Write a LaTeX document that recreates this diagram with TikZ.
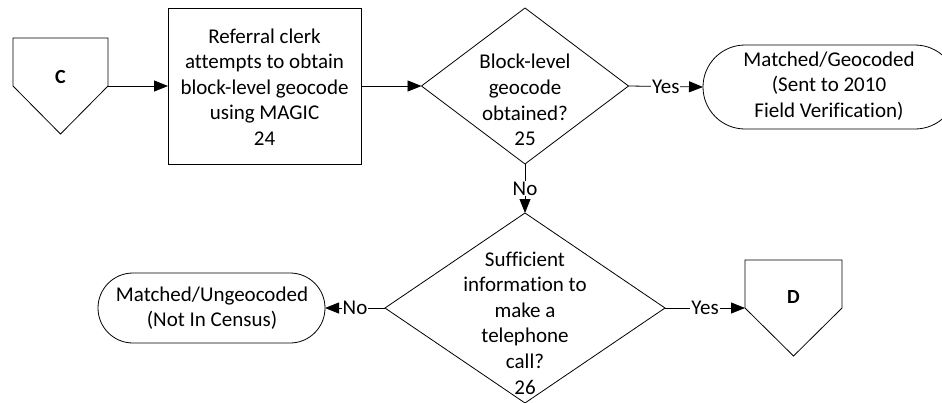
\documentclass[tikz,border=0pt]{standalone}
\usepackage{fontspec}
\setmainfont{Carlito}[Ligatures=NoCommon]
\usetikzlibrary{arrows.meta,shapes.geometric,shapes.misc}
\begin{document}
\begin{tikzpicture}[x=1pt,y=-1pt,
  font=\fontsize{21}{25.6}\selectfont,
  outline/.style={draw=black, line width=0.8pt, fill=white},
  process/.style={outline, rectangle, inner sep=0pt, outer sep=0pt},
  decision/.style={outline, diamond, inner sep=0pt, outer sep=0pt},
  terminal/.style={outline, rounded rectangle, inner sep=0pt, outer sep=0pt},
  offpage/.style={rectangle, inner sep=0pt, outer sep=0pt, minimum height=96pt},
  offlabel/.style={font=\fontsize{20}{24}\selectfont\bfseries, inner sep=0pt},
  flow/.style={line width=0.8pt, -{Triangle[length=14pt,width=11pt]}},
  branch/.style={fill=white, inner sep=1pt},
  caption/.style={align=center, inner sep=0pt},
]
\useasboundingbox (0,0) rectangle (942,402);
\clip (0,0) rectangle (942,402);

% off-page connector C
\node[offpage, minimum width=95pt] (C) at (60.5,86) {};
\draw[outline] (C.north west) -- (C.north east) -- (C.east) -- (C.south) -- (C.west) -- cycle;
\node[offlabel] (Ctext) at (60.5,77) {C};

% step 24
\node[process, minimum width=193pt, minimum height=156pt] (p24) at (264.5,86) {};
\node[caption] (p24text) at (264.5,87) {Referral clerk\\attempts to obtain\\block-level geocode\\using MAGIC\\24};

% decision 25
\node[decision, minimum width=207pt, minimum height=156pt] (d25) at (525,86) {};
\node[caption] (d25text) at (525,100) {Block-level\\geocode\\obtained?\\25};

% terminal: geocoded
\node[terminal, minimum width=254pt, minimum height=84pt] (t2) at (830,87) {};
\node[caption] (t2text) at (829,86) {Matched/Geocoded\\(Sent to 2010\\Field Verification)};

% decision 26
\node[decision, minimum width=280pt, minimum height=190pt] (d26) at (525,308) {};
\node[caption] (d26text) at (525,323) {Sufficient\\information to\\make a\\telephone\\call?\\26};

% terminal: ungeocoded
\node[terminal, minimum width=227pt, minimum height=70pt] (t1) at (211.5,308) {};
\node[caption] (t1text) at (212,308) {Matched/Ungeocoded\\(Not In Census)};

% off-page connector D
\node[offpage, minimum width=97pt] (D) at (793.5,308) {};
\draw[outline] (D.north west) -- (D.north east) -- (D.east) -- (D.south) -- (D.west) -- cycle;
\node[offlabel] (Dtext) at (793.5,297) {D};

% connectors
\draw[flow] (C.east) -- (p24.west);
\draw[flow] (p24.east) -- (d25.west);
\draw[flow] (d25.east) -- node[branch] {Yes} (t2.west);
\draw[flow] (d25.south) -- node[branch] {No} (d26.north);
\draw[flow] (d26.west) -- node[branch] {No} (t1.east);
\draw[flow] (d26.east) -- node[branch] {Yes} (D.west);
\end{tikzpicture}
\end{document}
